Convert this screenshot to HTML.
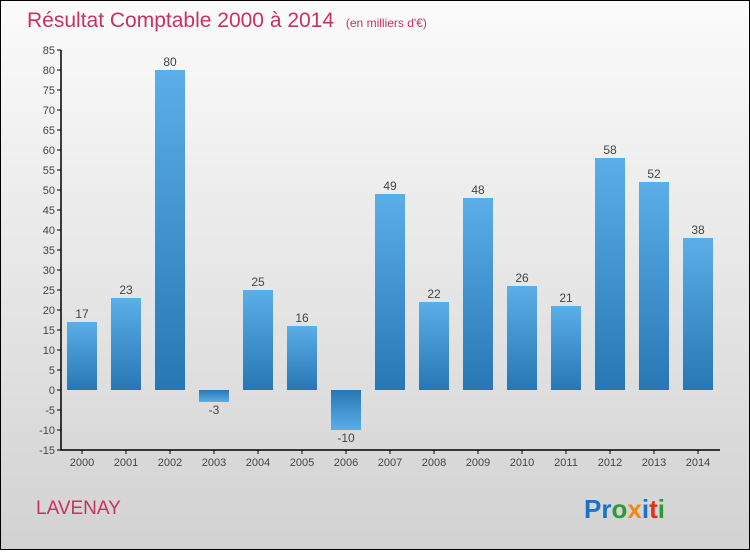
<!DOCTYPE html>
<html><head><meta charset="utf-8"><style>
body{margin:0;}
#c{width:750px;height:550px;position:relative;}
svg text{font-family:"Liberation Sans",sans-serif;}
</style></head><body>
<div id="c">
<svg id="s" width="750" height="550" xmlns="http://www.w3.org/2000/svg">
<defs>
<linearGradient id="bg" x1="0" y1="0" x2="0" y2="1"><stop offset="0" stop-color="#fbfbfb"/><stop offset="1" stop-color="#d2d2d2"/></linearGradient>
<linearGradient id="gp" x1="0" y1="0" x2="0" y2="1"><stop offset="0" stop-color="#5baee8"/><stop offset="1" stop-color="#2777b5"/></linearGradient>
<linearGradient id="gn" x1="0" y1="0" x2="0" y2="1"><stop offset="0" stop-color="#2777b5"/><stop offset="1" stop-color="#5baee8"/></linearGradient>
</defs>
<rect x="0.5" y="0.5" width="749" height="549" fill="url(#bg)" stroke="#000"/>
<text x="27" y="27" font-size="21" fill="#c8325f" style="font-weight:300">Résultat Comptable 2000 à 2014 <tspan font-size="12" dx="6">(en milliers d'€)</tspan></text>
<text x="36" y="514" font-size="19" fill="#c8325f">LAVENAY</text>
<text x="584" y="518" font-size="26" font-weight="bold"><tspan fill="#1a73c8">Pr</tspan><tspan fill="#2a9a3a">o</tspan><tspan fill="#f08a10">x</tspan><tspan fill="#1a73c8">i</tspan><tspan fill="#e03020">t</tspan><tspan fill="#2a9a3a">i</tspan></text>
<g id="g"></g>
</svg>
</div>
<script>
const years=["2000","2001","2002","2003","2004","2005","2006","2007","2008","2009","2010","2011","2012","2013","2014"];
const values=[17,23,80,-3,25,16,-10,49,22,48,26,21,58,52,38];
const yTicks=[-15,-10,-5,0,5,10,15,20,25,30,35,40,45,50,55,60,65,70,75,80,85];
const NS="http://www.w3.org/2000/svg";
const g=document.getElementById('g');
const yMin=-15,yMax=85,plotTop=50,plotBot=450,x0=61;
const y=v=>plotBot-(v-yMin)/(yMax-yMin)*(plotBot-plotTop);
const xc=i=>82+i*44;
function mk(t,a){const e=document.createElementNS(NS,t);for(const k in a)e.setAttribute(k,a[k]);g.appendChild(e);return e;}
let ax=mk('path',{d:`M${x0} ${plotTop}V${plotBot}H720`,stroke:'#000',fill:'none','stroke-width':1.5});


yTicks.forEach(v=>{
  const l=mk('line',{x1:x0-4,x2:x0,y1:y(v),y2:y(v),stroke:'#000'});
  
  
  const t=mk('text',{x:x0-6,y:y(v)+4,'font-size':11,fill:'#444','text-anchor':'end'});
  t.textContent=v;
  
  
});
years.forEach((yr,i)=>{
  const v=values[i],cx=xc(i);
  const r=mk('rect',{x:cx-15,width:30,y:Math.min(y(v),y(0)),height:Math.abs(y(v)-y(0)),fill:v>=0?'url(#gp)':'url(#gn)'});
  
  
  const l=mk('line',{x1:cx,x2:cx,y1:plotBot,y2:plotBot+4,stroke:'#000'});
  
  
  const t=mk('text',{x:cx,y:plotBot+16,'font-size':11,fill:'#444','text-anchor':'middle'});
  t.textContent=yr;
  
  
  const vl=mk('text',{x:cx,y:v>=0?y(v)-4:y(v)+12,'font-size':12,fill:'#444','text-anchor':'middle'});
  vl.textContent=v;
  
  
});
</script>
</body></html>
